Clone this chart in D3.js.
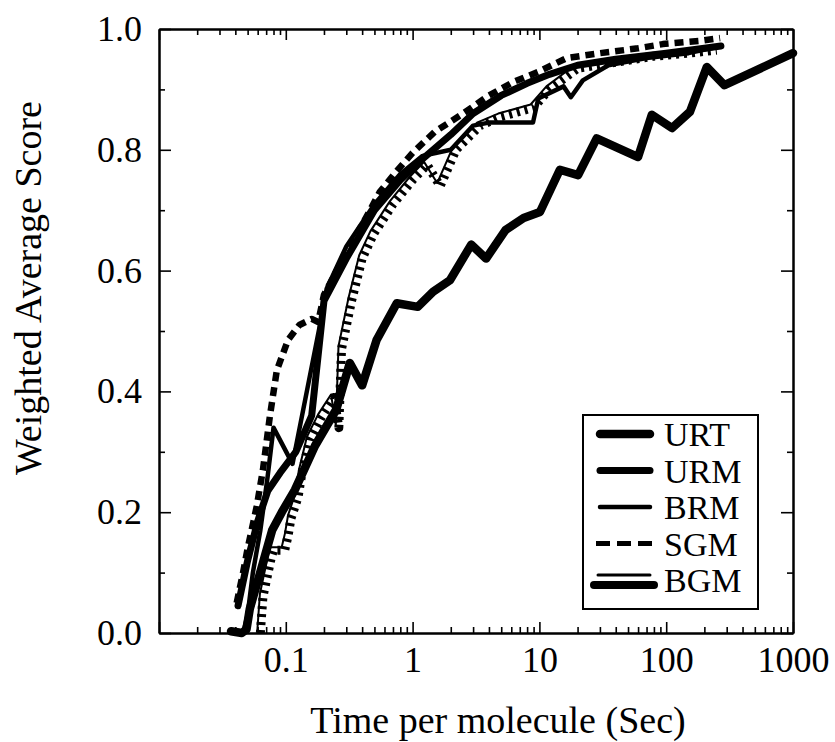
<!DOCTYPE html>
<html>
<head>
<meta charset="utf-8">
<script src="https://cdn.jsdelivr.net/npm/d3@7"></script>
<style>
  body { margin: 0; background: #fff; }
  text { font-family: "Liberation Serif", "Times New Roman", serif; fill: #000; }
</style>
</head>
<body>
<div id="chart"></div>
<script>
// values: [time per molecule (s), weighted average score]
const SERIES = ["URT", "URM", "BRM", "SGM", "BGM"];

const URT = [[0.037,0.003],[0.045,0.0],[0.049,0.006],[0.052,0.04],[0.066,0.116],[0.078,0.17],[0.093,0.2],
  [0.118,0.237],[0.17,0.31],[0.25,0.37],[0.32,0.447],[0.40,0.41],[0.52,0.485],[0.75,0.546],[1.1,0.54],
  [1.45,0.565],[1.97,0.584],[2.9,0.643],[3.8,0.62],[5.4,0.667],[7.5,0.687],[10.1,0.697],[14.5,0.767],
  [20.2,0.758],[28.3,0.819],[60,0.788],[77,0.858],[111,0.836],[154,0.863],[209,0.937],[288,0.907],[1000,0.96]];

const URM = [[0.042,0.045],[0.05,0.12],[0.06,0.185],[0.072,0.235],[0.09,0.265],[0.12,0.3],[0.16,0.36],
  [0.2,0.55],[0.3,0.62],[0.5,0.7],[0.8,0.75],[1.2,0.785],[2,0.825],[3,0.86],[5,0.89],[8,0.91],
  [12,0.925],[20,0.94],[40,0.95],[100,0.96],[200,0.968],[270,0.972]];

const BRM = [[0.046,0.0],[0.05,0.03],[0.055,0.1],[0.063,0.17],[0.072,0.26],[0.08,0.34],[0.113,0.28],
  [0.19,0.52],[0.21,0.57],[0.3,0.64],[0.5,0.71],[0.8,0.76],[1.2,0.79],[2,0.8],[3,0.84],[4,0.845],
  [8.9,0.845],[9.8,0.885],[15.5,0.905],[17.7,0.887],[22,0.915],[35,0.94],[70,0.952],[150,0.96],[250,0.97]];

const SGM = [[0.041,0.05],[0.046,0.1],[0.05,0.14],[0.055,0.18],[0.059,0.21],[0.066,0.27],[0.075,0.36],
  [0.085,0.435],[0.104,0.485],[0.128,0.51],[0.16,0.52],[0.18,0.515],[0.2,0.56],[0.3,0.63],[0.41,0.68],
  [0.55,0.73],[0.75,0.765],[1.0,0.795],[1.5,0.83],[2.5,0.86],[4,0.89],[6.2,0.912],[10,0.93],
  [16.5,0.952],[30,0.96],[60,0.968],[94,0.975],[180,0.98],[266,0.985]];

const BGM = [[0.063,0.0],[0.066,0.06],[0.077,0.126],[0.08,0.137],[0.098,0.137],[0.104,0.16],[0.11,0.19],
  [0.125,0.225],[0.134,0.265],[0.155,0.32],[0.19,0.357],[0.24,0.39],[0.262,0.34],[0.275,0.47],
  [0.33,0.55],[0.4,0.62],[0.49,0.66],[0.7,0.71],[1.0,0.75],[1.3,0.775],[1.65,0.74],[2.2,0.8],
  [3.4,0.84],[5,0.855],[9,0.87],[12,0.9],[20,0.935],[40,0.945],[80,0.955],[150,0.96],[250,0.965]];

const X_LABELS = [0.1, 1, 10, 100, 1000];
const Y_LABELS = [0, 0.2, 0.4, 0.6, 0.8, 1.0];

var margin = {top: 29, right: 42, bottom: 109, left: 159},
    width = 835 - margin.left - margin.right,
    height = 742 - margin.top - margin.bottom;

var svg = d3.select("#chart")
  .append("svg")
    .attr("width", 835)
    .attr("height", 742);

var g = svg.append("g")
    .attr("transform", "translate(" + margin.left + "," + margin.top + ")");

var x = d3.scaleLog().domain([0.01, 1000]).range([0, width]);
var y = d3.scaleLinear().domain([0, 1]).range([height, 0]);

// log minor ticks 2..9 in each decade, majors on the decades
var xMajor = [0.01].concat(X_LABELS);
var xMinor = [];
d3.range(-2, 3).forEach(function(e) {
  d3.range(2, 10).forEach(function(m) { xMinor.push(m * Math.pow(10, e)); });
});
var yMinor = [0.1, 0.3, 0.5, 0.7, 0.9];

function styleAxis(sel) {
  sel.select(".domain").attr("stroke", "#000").attr("stroke-width", 2);
  sel.selectAll(".tick line").attr("stroke", "#000").attr("stroke-width", 1.6);
  sel.selectAll("text").attr("font-size", "36px").attr("fill", "#000")
     .attr("font-family", "Liberation Serif, Times New Roman, serif");
}

// bottom
g.append("g").attr("transform", "translate(0," + height + ")")
  .call(d3.axisBottom(x).tickValues(xMinor).tickSize(-6).tickSizeOuter(0).tickFormat(""))
  .call(styleAxis);
g.append("g").attr("transform", "translate(0," + height + ")")
  .call(d3.axisBottom(x).tickValues(xMajor).tickSize(-11).tickSizeOuter(0).tickPadding(13)
    .tickFormat(function(d) { return X_LABELS.indexOf(d) >= 0 ? String(d) : ""; }))
  .call(styleAxis);
// top
g.append("g")
  .call(d3.axisTop(x).tickValues(xMinor).tickSize(-6).tickSizeOuter(0).tickFormat(""))
  .call(styleAxis);
g.append("g")
  .call(d3.axisTop(x).tickValues(xMajor).tickSize(-11).tickSizeOuter(0).tickFormat(""))
  .call(styleAxis);
// left
g.append("g")
  .call(d3.axisLeft(y).tickValues(yMinor).tickSize(-6).tickSizeOuter(0).tickFormat(""))
  .call(styleAxis);
g.append("g")
  .call(d3.axisLeft(y).tickValues(Y_LABELS).tickSize(-12).tickSizeOuter(0).tickPadding(17)
    .tickFormat(d3.format(".1f")))
  .call(styleAxis);
// right
g.append("g").attr("transform", "translate(" + width + ",0)")
  .call(d3.axisRight(y).tickValues(yMinor).tickSize(-6).tickSizeOuter(0).tickFormat(""))
  .call(styleAxis);
g.append("g").attr("transform", "translate(" + width + ",0)")
  .call(d3.axisRight(y).tickValues(Y_LABELS).tickSize(-12).tickSizeOuter(0).tickFormat(""))
  .call(styleAxis);

// line styles per series
var styles = {
  URT: {w: 8.5},
  URM: {w: 7},
  BRM: {w: 4.5},
  SGM: {w: 6.5, dash: "9,6"},
  BGM: {w: 9, dash: "3,5", thin: 2}
};
var seriesData = {URT: URT, URM: URM, BRM: BRM, SGM: SGM, BGM: BGM};

var line = d3.line()
    .x(function(d) { return x(d[0]); })
    .y(function(d) { return y(d[1]); });

var plot = g.append("g");
SERIES.slice().reverse().forEach(function(name) {
  var s = styles[name];
  if (s.thin) {
    plot.append("path")
      .datum(seriesData[name])
      .attr("d", line)
      .attr("transform", "translate(-3,-3)")
      .attr("fill", "none").attr("stroke", "#000")
      .attr("stroke-width", s.thin).attr("stroke-linejoin", "round");
  }
  plot.append("path")
    .datum(seriesData[name])
    .attr("d", line)
    .attr("fill", "none")
    .attr("stroke", "#000")
    .attr("stroke-width", s.w)
    .attr("stroke-linejoin", "round")
    .attr("stroke-linecap", s.dash ? "butt" : "round")
    .attr("stroke-dasharray", s.dash || null);
});

// legend
var legend = svg.append("g");
legend.append("rect")
  .attr("x", 583).attr("y", 415).attr("width", 175).attr("height", 194)
  .attr("fill", "#fff").attr("stroke", "#000").attr("stroke-width", 2);

var rowY = [434, 470.5, 507, 543.5, 580];
SERIES.forEach(function(name, i) {
  var s = styles[name], yy = rowY[i];
  if (s.thin) {
    legend.append("line").attr("x1", 598).attr("x2", 650).attr("y1", yy - 5).attr("y2", yy - 5)
      .attr("stroke", "#000").attr("stroke-width", 3).attr("stroke-linecap", "round");
    legend.append("line").attr("x1", 594).attr("x2", 654).attr("y1", yy + 5).attr("y2", yy + 5)
      .attr("stroke", "#000").attr("stroke-width", 8).attr("stroke-linecap", "round");
  } else {
    legend.append("line").attr("x1", s.dash ? 596 : 600).attr("x2", s.dash ? 652 : 650)
      .attr("y1", yy).attr("y2", yy)
      .attr("stroke", "#000").attr("stroke-width", s.dash ? 5 : s.w)
      .attr("stroke-linecap", s.dash ? "butt" : "round")
      .attr("stroke-dasharray", s.dash ? "14,7" : null);
  }
  legend.append("text")
    .attr("x", 664).attr("y", yy + 12)
    .attr("font-size", "34px")
    .text(name);
});

// axis titles
svg.append("text")
  .attr("x", 498).attr("y", 733)
  .attr("text-anchor", "middle")
  .attr("font-size", "38px")
  .text("Time per molecule (Sec)");

svg.append("text")
  .attr("transform", "translate(41,288) rotate(-90)")
  .attr("text-anchor", "middle")
  .attr("font-size", "38px")
  .text("Weighted Average Score");
</script>
</body>
</html>
